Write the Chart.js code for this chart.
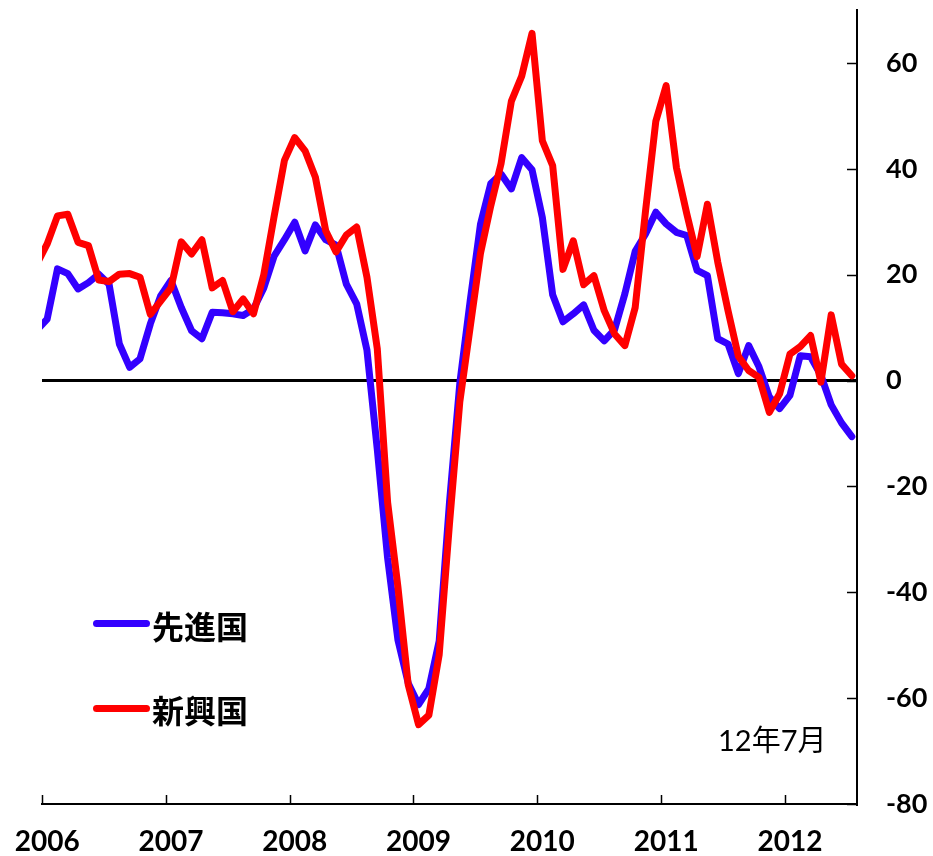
<!DOCTYPE html>
<html>
<head>
<meta charset="utf-8">
<script src="https://cdn.jsdelivr.net/npm/chart.js@4/dist/chart.umd.min.js"></script>
<style>
  html, body { margin: 0; padding: 0; background: #fff; }
  #wrap { position: relative; width: 933px; height: 856px; }
  canvas { position: absolute; left: 0; top: 0; }
  .lg-line { position: absolute; left: 93px; width: 57px; height: 7px; border-radius: 3.5px; }
  .lg-text { position: absolute; left: 152px; font: bold 32px "Noto Sans CJK JP", sans-serif; line-height: 32px; height: 32px; color: #000; white-space: nowrap; }
  .note { position: absolute; left: 718px; top: 725px; font: 29px "Lato", "Noto Sans CJK JP", sans-serif; line-height: 29px; color: #000; white-space: nowrap; }
</style>
</head>
<body>
<div id="wrap">
  <canvas id="c" width="933" height="856"></canvas>
  <div class="lg-line" style="top:620px;background:#3300ff"></div>
  <div class="lg-text" style="top:609px">先進国</div>
  <div class="lg-line" style="top:705px;background:#ff0000"></div>
  <div class="lg-text" style="top:693px">新興国</div>
  <div class="note">12年7月</div>
</div>
<script>
// Monthly series, first value = Dec 2005, then Jan 2006 ... Jul 2012
const yearLabels = ['2006', '2007', '2008', '2009', '2010', '2011', '2012'];
const yTickValues = [-80, -60, -40, -20, 0, 20, 40, 60];
const seriesNames = ['先進国', '新興国'];

const advanced = [
  9.5,
  11.6, 21.1, 20.2, 17.3, 18.5, 20.1, 18.2, 6.9, 2.5, 4.1, 10.7, 16.0,
  18.9, 13.8, 9.4, 7.9, 12.9, 12.8, 12.6, 12.3, 13.5, 17.5, 23.5, 26.6,
  29.9, 24.5, 29.4, 26.6, 25.6, 18.2, 14.5, 5.7, -13, -33.5, -49, -57.2,
  -61.2, -58.2, -49.2, -23, -0.5, 15, 29.5, 37.2, 39.0, 36.2, 42.1, 39.8,
  30.8, 16.2, 11.1, 12.6, 14.3, 9.5, 7.5, 9.6, 16.4, 24.4, 27.7, 31.8,
  29.6, 28.0, 27.4, 20.8, 19.8, 7.9, 6.9, 1.3, 6.6, 2.6, -3.1, -5.3,
  -2.8, 4.7, 4.5, 1.0, -4.6, -8.0, -10.6
];
const emerging = [
  22,
  25.8, 31.1, 31.4, 26.1, 25.5, 19.0, 18.7, 20.1, 20.2, 19.5, 12.5, 15.0,
  17.5, 26.2, 23.9, 26.6, 17.5, 18.9, 13.0, 15.4, 12.6, 20.0, 31.0, 41.6,
  45.9, 43.4, 38.4, 28.3, 24.3, 27.5, 29.0, 19.5, 6.0, -23, -39, -57.5,
  -65, -63.2, -51.8, -27, -4, 10, 24.0, 33.0, 41.0, 52.8, 57.5, 65.6,
  45.3, 40.6, 21.0, 26.4, 18.1, 19.8, 13.2, 8.8, 6.6, 13.8, 32.0, 49.0,
  55.7, 40.2, 31.5, 23.4, 33.3, 22.4, 13.2, 4.6, 1.9, 0.6, -6.0, -2.5,
  5.0, 6.4, 8.5, -0.3, 12.4, 3.1, 0.9
];

// target plot box (pixels) of the reference
const plotBox = { left: 42, top: 10, right: 857, bottom: 804 };

const toPoints = arr => arr.map((v, i) => ({ x: i - 0.5, y: v }));

const zeroPad = s => { s.paddingTop = 0; s.paddingBottom = 0; s.paddingLeft = 0; s.paddingRight = 0; };

const inwardTicks = {
  id: 'inwardTicks',
  afterDraw(chart) {
    const { ctx, chartArea, scales: { x, y } } = chart;
    ctx.save();
    ctx.strokeStyle = '#000';
    ctx.lineWidth = 1.5;
    ctx.beginPath();
    yearLabels.forEach((_, i) => {
      const px = Math.round(x.getPixelForValue(i * 12)) + 0.5;
      ctx.moveTo(px, chartArea.bottom);
      ctx.lineTo(px, chartArea.bottom - 9);
    });
    yTickValues.forEach(v => {
      const py = Math.round(y.getPixelForValue(v)) + 0.5;
      ctx.moveTo(chartArea.right, py);
      ctx.lineTo(chartArea.right - 10, py);
    });
    ctx.stroke();
    ctx.restore();
  }
};

const pad = { left: 42, top: 10, right: 0, bottom: 0 };

const chart = new Chart(document.getElementById('c'), {
  type: 'line',
  data: {
    datasets: [
      {
        label: seriesNames[0],
        data: toPoints(advanced),
        borderColor: '#3300ff',
        backgroundColor: '#3300ff',
        borderWidth: 7,
        pointRadius: 0,
        tension: 0,
        borderJoinStyle: 'round',
        borderCapStyle: 'round',
        clip: 0,
        order: 1
      },
      {
        label: seriesNames[1],
        data: toPoints(emerging),
        borderColor: '#ff0000',
        backgroundColor: '#ff0000',
        borderWidth: 7,
        pointRadius: 0,
        tension: 0,
        borderJoinStyle: 'round',
        borderCapStyle: 'round',
        clip: 0,
        order: 0
      }
    ]
  },
  options: {
    responsive: false,
    devicePixelRatio: 1,
    animation: false,
    layout: { padding: { ...pad } },
    plugins: { legend: { display: false }, tooltip: { enabled: false } },
    scales: {
      x: {
        type: 'linear',
        position: 'bottom',
        min: 0,
        max: 79,
        grid: { display: true, drawOnChartArea: false, drawTicks: false },
        border: { display: true, color: '#000', width: 2 },
        afterBuildTicks: s => { s.ticks = yearLabels.map((_, i) => ({ value: i * 12 + 0.5 })); },
        afterFit: s => { zeroPad(s); s.height = 52; },
        ticks: {
          autoSkip: false,
          maxRotation: 0,
          padding: 21,
          color: '#000',
          font: { family: 'Lato', weight: 'bold', size: 28 },
          callback: (v, i) => yearLabels[i]
        }
      },
      y: {
        type: 'linear',
        position: 'right',
        min: -80,
        max: 70,
        afterBuildTicks: s => { s.ticks = yTickValues.map(v => ({ value: v })); },
        afterFit: s => { zeroPad(s); s.width = 76; },
        grid: {
          drawTicks: false,
          color: c => (c.tick && c.tick.value === 0 ? '#000' : 'rgba(0,0,0,0)'),
          lineWidth: 3
        },
        border: { display: true, color: '#000', width: 2 },
        ticks: {
          padding: 29,
          color: '#000',
          font: { family: 'Lato', weight: 'bold', size: 27 }
        }
      }
    }
  },
  plugins: [inwardTicks]
});

// nudge the layout padding so the plot box lands where the reference has it
for (let k = 0; k < 4; k++) {
  const a = chart.chartArea;
  pad.left += plotBox.left - a.left;
  pad.top += plotBox.top - a.top;
  pad.right += a.right - plotBox.right;
  pad.bottom += a.bottom - plotBox.bottom;
  chart.options.layout.padding = { ...pad };
  chart.update('none');
}
</script>
</body>
</html>
